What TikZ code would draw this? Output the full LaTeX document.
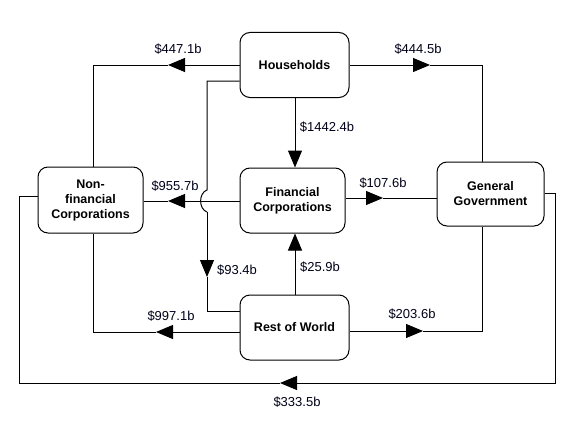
\documentclass[tikz,border=0pt]{standalone}
\usepackage{fontspec}
\setmainfont{Liberation Sans}
\usetikzlibrary{arrows.meta}
\begin{document}
\begin{tikzpicture}[x=1pt,y=-1pt,
  box/.style={draw, line width=1pt, rounded corners=10pt, align=center,
    font=\fontsize{12.5}{15}\selectfont\bfseries, inner sep=0pt},
  flow/.style={line width=1pt},
  tri/.style={-{Triangle[length=17pt,width=14pt]}, line width=1pt},
  lbl/.style={font=\fontsize{13}{15}\selectfont, inner sep=0pt, text=black!90!blue}]
\useasboundingbox[fill=white] (0,0) rectangle (580,420);

% boxes
\node[box, minimum width=109pt, minimum height=65pt] (H) at (294.5,65) {Households};
\node[box, minimum width=105pt, minimum height=65pt] (FC) at (292.5,200.5) {Financial\\Corporations};
\node[box, minimum width=105pt, minimum height=66pt] (NFC) at (90.5,200) {Non-\\financial\\Corporations};
\node[box, minimum width=107pt, minimum height=64pt] (GG) at (490.5,194) {General\\Government};
\node[box, minimum width=109pt, minimum height=65pt] (RW) at (294.5,327.5) {Rest of World};

% Households -> NFC
\coordinate (t1) at (168,65);
\coordinate (c1) at (93,65);
\draw[tri] (H.west) -- (t1);
\draw[flow] (t1) -- (c1) -- (c1 |- NFC.north);
\node[lbl] (l1) at (178,49) {\$447.1b};

% Households -> GG
\coordinate (t2) at (430,65);
\coordinate (c2) at (482,65);
\draw[tri] (H.east) -- (t2);
\draw[flow] (t2) -- (c2) -- (c2 |- GG.north);
\node[lbl] (l2) at (418,49) {\$444.5b};

% Households -> FC
\coordinate (v3) at (295,0);
\draw[tri] (v3 |- H.south) -- (v3 |- FC.north);
\node[lbl] (l3) at (327,127) {\$1442.4b};

% FC -> NFC
\coordinate (t4) at (168,201);
\draw[tri] (FC.west |- t4) -- (t4);
\draw[flow] (t4) -- (t4 -| NFC.east);
\node[lbl] (l4) at (175,186) {\$955.7b};

% FC -> GG
\coordinate (t5) at (383,198);
\draw[tri] (FC.east |- t5) -- (t5);
\draw[flow] (t5) -- (t5 -| GG.west);
\node[lbl] (l5) at (383,183) {\$107.6b};

% Households -> RoW (with jump)
\coordinate (j0) at (207,81);
\coordinate (j1) at (207,190);
\coordinate (j2) at (207,212);
\coordinate (t6) at (207,277);
\coordinate (c6) at (207,311);
\draw[flow] (H.west |- j0) -- (j0) -- (j1) .. controls (198.5,193) and (198.5,209) .. (j2);
\draw[tri] (j2) -- (t6);
\draw[flow] (t6) -- (c6) -- (c6 -| RW.west);
\node[lbl] (l6) at (237,270) {\$93.4b};

% RoW -> FC
\draw[tri] (v3 |- RW.north) -- (v3 |- FC.south);
\node[lbl] (l7) at (320,267) {\$25.9b};

% RoW -> NFC
\coordinate (t8) at (156,332);
\coordinate (c8) at (93,332);
\draw[tri] (RW.west |- t8) -- (t8);
\draw[flow] (t8) -- (c8) -- (c8 |- NFC.south);
\node[lbl] (l8) at (171,316) {\$997.1b};

% RoW -> GG
\coordinate (t9) at (423,331);
\coordinate (c9) at (482,331);
\draw[tri] (RW.east |- t9) -- (t9);
\draw[flow] (t9) -- (c9) -- (c9 |- GG.south);
\node[lbl] (l9) at (412,314) {\$203.6b};

% GG -> NFC
\coordinate (g0) at (555,193);
\coordinate (g1) at (555,383);
\coordinate (t10) at (280,383);
\coordinate (g2) at (19,383);
\coordinate (g3) at (19,196);
\draw[tri] (GG.east |- g0) -- (g0) -- (g1) -- (t10);
\draw[flow] (t10) -- (g2) -- (g3) -- (g3 -| NFC.west);
\node[lbl] (l10) at (297,402) {\$333.5b};
\end{tikzpicture}
\end{document}
